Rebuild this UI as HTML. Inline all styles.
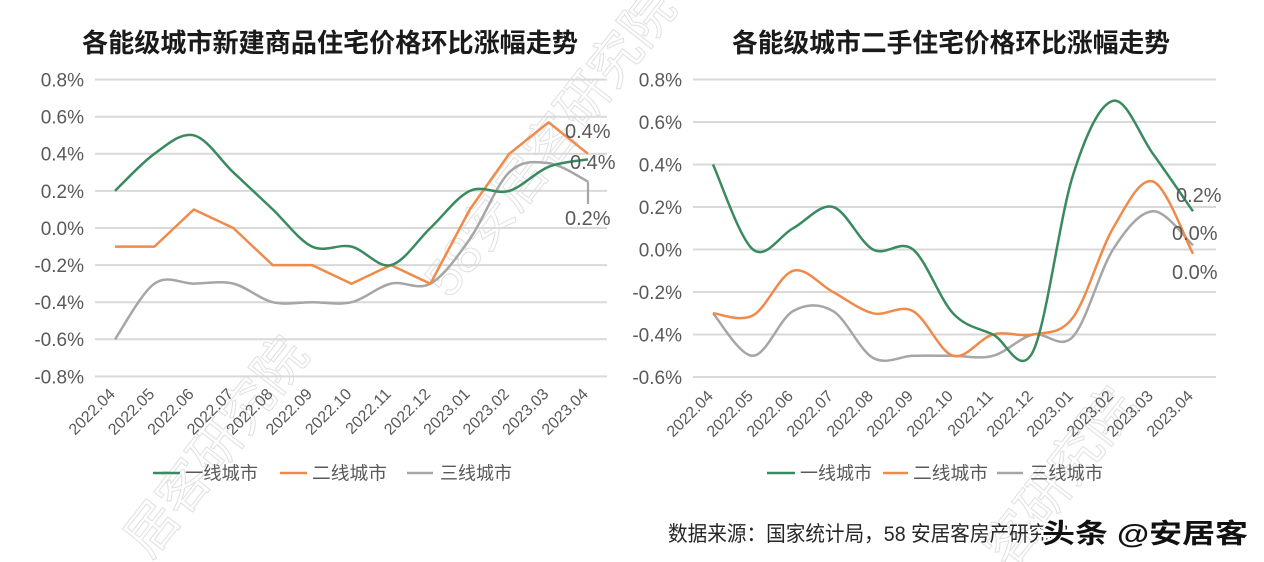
<!DOCTYPE html>
<html>
<head>
<meta charset="utf-8">
<style>
  html,body{margin:0;padding:0;background:#fff;}
  svg{display:block;}
  .t{font-family:"Liberation Sans","Noto Sans CJK SC",sans-serif;}
  .tick{font-family:"Liberation Sans","Noto Sans CJK SC",sans-serif;font-size:19px;fill:#595959;}
  .xl{font-family:"Liberation Sans","Noto Sans CJK SC",sans-serif;font-size:16px;fill:#595959;}
  .lg{font-family:"Liberation Sans","Noto Sans CJK SC",sans-serif;font-size:18px;fill:#595959;}
  .dl{font-family:"Liberation Sans","Noto Sans CJK SC",sans-serif;font-size:20px;fill:#595959;}
  .grid line{stroke:#d9d9d9;stroke-width:2;}
  .wm{font-family:"Liberation Sans","Noto Sans CJK SC",sans-serif;font-size:52px;fill:none;stroke:#e0e0e0;stroke-width:1;}
</style>
</head>
<body>
<svg width="1264" height="562" viewBox="0 0 1264 562" xmlns="http://www.w3.org/2000/svg">
  <rect width="1264" height="562" fill="#fff"/>

  <!-- watermarks -->
  <text class="wm" transform="translate(150,560) rotate(-52)">居客研究院</text>
  <text class="wm" transform="translate(450,300) rotate(-52)">58安居客研究院</text>
  <text class="wm" transform="translate(1010,570) rotate(-52)">客研究院</text>

  <!-- Titles -->
  <text class="t" x="82" y="52" font-size="26" font-weight="bold" fill="#1a1a1a" textLength="496" lengthAdjust="spacingAndGlyphs">各能级城市新建商品住宅价格环比涨幅走势</text>
  <text class="t" x="732" y="52" font-size="26" font-weight="bold" fill="#1a1a1a" textLength="438" lengthAdjust="spacingAndGlyphs">各能级城市二手住宅价格环比涨幅走势</text>

  <!-- LEFT CHART -->
  <g class="grid">
    <line x1="95" y1="79.6" x2="607" y2="79.6"/>
    <line x1="95" y1="116.7" x2="607" y2="116.7"/>
    <line x1="95" y1="153.8" x2="607" y2="153.8"/>
    <line x1="95" y1="190.9" x2="607" y2="190.9"/>
    <line x1="95" y1="228" x2="607" y2="228"/>
    <line x1="95" y1="265.1" x2="607" y2="265.1"/>
    <line x1="95" y1="302.2" x2="607" y2="302.2"/>
    <line x1="95" y1="339.3" x2="607" y2="339.3"/>
    <line x1="95" y1="376.4" x2="607" y2="376.4"/>
  </g>
  <g class="tick" text-anchor="end">
    <text x="84" y="86.5">0.8%</text>
    <text x="84" y="123.6">0.6%</text>
    <text x="84" y="160.7">0.4%</text>
    <text x="84" y="197.8">0.2%</text>
    <text x="84" y="234.9">0.0%</text>
    <text x="84" y="272">-0.2%</text>
    <text x="84" y="309.1">-0.4%</text>
    <text x="84" y="346.2">-0.6%</text>
    <text x="84" y="383.3">-0.8%</text>
  </g>
  <g class="xl" text-anchor="end">
    <text transform="translate(116,395) rotate(-45)">2022.04</text>
    <text transform="translate(155.4,395) rotate(-45)">2022.05</text>
    <text transform="translate(194.8,395) rotate(-45)">2022.06</text>
    <text transform="translate(234.3,395) rotate(-45)">2022.07</text>
    <text transform="translate(273.7,395) rotate(-45)">2022.08</text>
    <text transform="translate(313.1,395) rotate(-45)">2022.09</text>
    <text transform="translate(352.5,395) rotate(-45)">2022.10</text>
    <text transform="translate(391.9,395) rotate(-45)">2022.11</text>
    <text transform="translate(431.4,395) rotate(-45)">2022.12</text>
    <text transform="translate(470.8,395) rotate(-45)">2023.01</text>
    <text transform="translate(510.2,395) rotate(-45)">2023.02</text>
    <text transform="translate(549.6,395) rotate(-45)">2023.03</text>
    <text transform="translate(589,395) rotate(-45)">2023.04</text>
  </g>

  <path id="lgray" fill="none" stroke="#a6a6a6" stroke-width="2.5" stroke-linejoin="round" d="M115,339.3 L154.4,283.7 L193.8,283.7 L233.3,283.7 L272.7,302.2 L312.1,302.2 L351.5,302.2 L390.9,283.7 L430.4,283.7 L469.8,239.1 L509.2,172.4 L548.6,163.1 L588,181.6"/>
  <line x1="588" y1="181.6" x2="588" y2="204" stroke="#a6a6a6" stroke-width="2.2"/>
  <path id="lorange" fill="none" stroke="#f08a4b" stroke-width="2.5" stroke-linejoin="round" d="M115,246.6 L154.4,246.6 L193.8,209.5 L233.3,228 L272.7,265.1 L312.1,265.1 L351.5,283.7 L390.9,265.1 L430.4,283.7 L469.8,209.5 L509.2,153.8 L548.6,122.3 L588,153.8"/>
  <path id="lgreen" fill="none" stroke="#3a8a60" stroke-width="2.5" stroke-linejoin="round" d="M115,190.9 L154.4,153.8 L193.8,135.3 L233.3,172.4 L272.7,209.5 L312.1,246.6 L351.5,246.6 L390.9,265.1 L430.4,228 L469.8,190.9 L509.2,190.9 L548.6,166.8 L588,159.4"/>

  <g class="dl">
    <text x="565" y="138">0.4%</text>
    <text x="570" y="169">0.4%</text>
    <text x="565" y="225">0.2%</text>
  </g>

  <!-- left legend -->
  <line x1="153" y1="473" x2="180" y2="473" stroke="#3a8a60" stroke-width="2.5"/>
  <text class="lg" x="185" y="479.5" textLength="73" lengthAdjust="spacingAndGlyphs">一线城市</text>
  <line x1="280" y1="473" x2="307" y2="473" stroke="#f08a4b" stroke-width="2.5"/>
  <text class="lg" x="312" y="479.5" textLength="75" lengthAdjust="spacingAndGlyphs">二线城市</text>
  <line x1="407" y1="473" x2="433" y2="473" stroke="#a6a6a6" stroke-width="2.5"/>
  <text class="lg" x="440" y="479.5" textLength="72" lengthAdjust="spacingAndGlyphs">三线城市</text>

  <!-- RIGHT CHART -->
  <g class="grid">
    <line x1="693" y1="79.5" x2="1216" y2="79.5"/>
    <line x1="693" y1="122" x2="1216" y2="122"/>
    <line x1="693" y1="164.5" x2="1216" y2="164.5"/>
    <line x1="693" y1="207" x2="1216" y2="207"/>
    <line x1="693" y1="249.5" x2="1216" y2="249.5"/>
    <line x1="693" y1="292" x2="1216" y2="292"/>
    <line x1="693" y1="334.5" x2="1216" y2="334.5"/>
    <line x1="693" y1="377" x2="1216" y2="377"/>
  </g>
  <g class="tick" text-anchor="end">
    <text x="682" y="86.4">0.8%</text>
    <text x="682" y="128.9">0.6%</text>
    <text x="682" y="171.4">0.4%</text>
    <text x="682" y="213.9">0.2%</text>
    <text x="682" y="256.4">0.0%</text>
    <text x="682" y="298.9">-0.2%</text>
    <text x="682" y="341.4">-0.4%</text>
    <text x="682" y="383.9">-0.6%</text>
  </g>
  <g class="xl" text-anchor="end">
    <text transform="translate(714,397) rotate(-45)">2022.04</text>
    <text transform="translate(754,397) rotate(-45)">2022.05</text>
    <text transform="translate(794,397) rotate(-45)">2022.06</text>
    <text transform="translate(834,397) rotate(-45)">2022.07</text>
    <text transform="translate(874,397) rotate(-45)">2022.08</text>
    <text transform="translate(914,397) rotate(-45)">2022.09</text>
    <text transform="translate(954,397) rotate(-45)">2022.10</text>
    <text transform="translate(994,397) rotate(-45)">2022.11</text>
    <text transform="translate(1034,397) rotate(-45)">2022.12</text>
    <text transform="translate(1074,397) rotate(-45)">2023.01</text>
    <text transform="translate(1114,397) rotate(-45)">2023.02</text>
    <text transform="translate(1154,397) rotate(-45)">2023.03</text>
    <text transform="translate(1194,397) rotate(-45)">2023.04</text>
  </g>

  <path id="rgray" fill="none" stroke="#a6a6a6" stroke-width="2.5" stroke-linejoin="round" d="M713,313.3 L753,355.8 L793,311.1 L833,311.1 L873,357.9 L913,355.8 L953,355.8 L993,355.8 L1033,334.5 L1073,336.6 L1113,249.5 L1153,211.3 L1193,245.3"/>
  <path id="rorange" fill="none" stroke="#f08a4b" stroke-width="2.5" stroke-linejoin="round" d="M713,313.3 L753,315.4 L793,270.8 L833,292 L873,313.3 L913,311.1 L953,355.8 L993,334.5 L1033,334.5 L1073,317.5 L1113,228.3 L1153,181.5 L1193,253.8"/>
  <path id="rgreen" fill="none" stroke="#3a8a60" stroke-width="2.5" stroke-linejoin="round" d="M713,164.5 L753,249.5 L793,228.3 L833,207 L873,249.5 L913,249.5 L953,313.3 L993,334.5 L1033,355.8 L1073,175.1 L1113,100.8 L1153,153.9 L1193,211.3"/>

  <g class="dl">
    <text x="1176" y="202">0.2%</text>
    <text x="1172" y="240">0.0%</text>
    <text x="1172" y="279">0.0%</text>
  </g>

  <!-- right legend -->
  <line x1="767" y1="473" x2="795" y2="473" stroke="#3a8a60" stroke-width="2.5"/>
  <text class="lg" x="800" y="479.5" textLength="72" lengthAdjust="spacingAndGlyphs">一线城市</text>
  <line x1="883" y1="473" x2="908" y2="473" stroke="#f08a4b" stroke-width="2.5"/>
  <text class="lg" x="913" y="479.5" textLength="75" lengthAdjust="spacingAndGlyphs">二线城市</text>
  <line x1="997" y1="473" x2="1023" y2="473" stroke="#a6a6a6" stroke-width="2.5"/>
  <text class="lg" x="1030" y="479.5" textLength="73" lengthAdjust="spacingAndGlyphs">三线城市</text>

  <!-- footer -->
  <text class="t" x="668" y="541" font-size="21" fill="#262626" textLength="400" lengthAdjust="spacingAndGlyphs">数据来源：国家统计局，58 安居客房产研究院</text>
  <text class="t" x="1042" y="543" font-size="27" font-weight="bold" fill="#111" stroke="#fff" stroke-width="4" paint-order="stroke" textLength="206" lengthAdjust="spacingAndGlyphs">头条 @安居客</text>
</svg>
<script>
(function(){
  function smooth(id, xs, ys){
    var n = xs.length, d = 'M' + xs[0] + ',' + ys[0];
    for (var i = 0; i < n - 1; i++) {
      var p0 = i > 0 ? i - 1 : i, p3 = i + 2 < n ? i + 2 : i + 1;
      var c1x = xs[i] + (xs[i+1] - xs[p0]) / 6, c1y = ys[i] + (ys[i+1] - ys[p0]) / 6;
      var c2x = xs[i+1] - (xs[p3] - xs[i]) / 6, c2y = ys[i+1] - (ys[p3] - ys[i]) / 6;
      d += ' C' + c1x.toFixed(1) + ',' + c1y.toFixed(1) + ' ' + c2x.toFixed(1) + ',' + c2y.toFixed(1) + ' ' + xs[i+1] + ',' + ys[i+1];
    }
    var el = document.getElementById(id);
    if (el) el.setAttribute('d', d);
  }
  var lx = [], rx = [];
  for (var i = 0; i < 13; i++) { lx.push(+(115 + 39.42 * i).toFixed(1)); rx.push(713 + 40 * i); }
  function ly(v){ return +(228 - 185.5 * v).toFixed(1); }
  function ry(v){ return +(249.5 - 212.5 * v).toFixed(1); }
  smooth('lgreen', lx, [0.2,0.4,0.5,0.3,0.1,-0.1,-0.1,-0.2,0.0,0.2,0.2,0.33,0.37].map(ly));
  smooth('lgray', lx, [-0.6,-0.3,-0.3,-0.3,-0.4,-0.4,-0.4,-0.3,-0.3,-0.06,0.3,0.35,0.25].map(ly));
  smooth('rgreen', rx, [0.4,0.0,0.1,0.2,0.0,0.0,-0.3,-0.4,-0.48,0.35,0.7,0.45,0.18].map(ry));
  smooth('rorange', rx, [-0.3,-0.31,-0.1,-0.2,-0.3,-0.29,-0.5,-0.4,-0.4,-0.32,0.1,0.32,-0.02].map(ry));
  smooth('rgray', rx, [-0.3,-0.5,-0.29,-0.29,-0.51,-0.5,-0.5,-0.5,-0.4,-0.41,0.0,0.18,0.02].map(ry));
})();
</script>
</body>
</html>
